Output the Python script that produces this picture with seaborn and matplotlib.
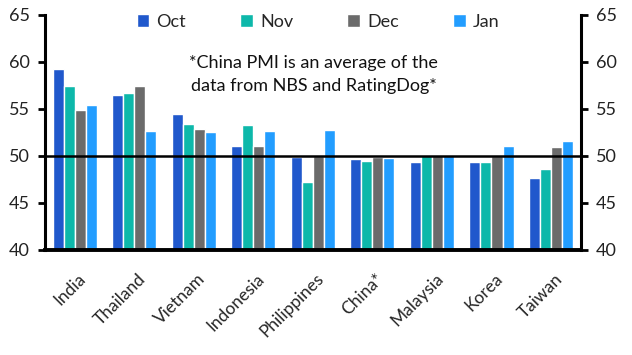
import pandas as pd
import numpy as np
import seaborn as sns
import matplotlib.pyplot as plt
import matplotlib.transforms as mtransforms

sns.set_theme(style="white")
plt.rcParams['font.family'] = ['Lato', 'DejaVu Sans']

countries = ['India', 'Thailand', 'Vietnam', 'Indonesia', 'Philippines',
             'China*', 'Malaysia', 'Korea', 'Taiwan']
months = ['Oct', 'Nov', 'Dec', 'Jan']
oct_vals = [59.2, 56.5, 54.5, 51.1, 49.9, 49.7, 49.4, 49.4, 47.7]
nov_vals = [57.4, 56.7, 53.4, 53.3, 47.2, 49.5, 50.1, 49.3, 48.6]
dec_vals = [54.9, 57.4, 52.9, 51.1, 50.0, 49.9, 50.1, 50.0, 50.9]
jan_vals = [55.4, 52.7, 52.5, 52.6, 52.8, 49.8, 50.1, 51.1, 51.6]
colors = ['#2058cc', '#0db8aa', '#6b6b6b', '#229dff']

df = pd.DataFrame({'Oct': oct_vals, 'Nov': nov_vals, 'Dec': dec_vals, 'Jan': jan_vals},
                  index=countries)
df = df.reset_index().melt(id_vars='index', var_name='month', value_name='pmi')
df = df.rename(columns={'index': 'country'})

fig = plt.figure(figsize=(6.32, 3.55), dpi=100)
ax = fig.add_axes([0.071, 0.296, 0.848, 0.662])
sns.barplot(data=df, x='country', y='pmi', hue='month', hue_order=months,
            palette=colors, saturation=1, width=0.74, ax=ax)

ax.set_ylim(40, 65)
ax.set_yticks([40, 45, 50, 55, 60, 65])
ax.set_xlim(-0.5, len(countries) - 0.5)
ax.axhline(50, color='black', lw=1.8, zorder=5)
ax.set_xlabel('')
ax.set_ylabel('')

for s in ['left', 'right', 'bottom']:
    ax.spines[s].set_visible(True)
    ax.spines[s].set_color('black')
    ax.spines[s].set_linewidth(2.2)
ax.spines['bottom'].set_linewidth(2.8)
ax.spines['top'].set_visible(False)

ax.tick_params(axis='y', which='both', left=True, right=True, labelleft=True,
               labelright=True, direction='out', length=5, width=2,
               labelsize=13, colors='black', pad=6)
ax.tick_params(axis='x', bottom=False, labelsize=12.5, pad=9)
for lab in ax.get_yticklabels():
    lab.set_color('#222222')
shift = mtransforms.ScaledTranslation(3 / 100, 0, fig.dpi_scale_trans)
for lab in ax.get_xticklabels():
    lab.set_rotation(45)
    lab.set_ha('right')
    lab.set_rotation_mode('anchor')
    lab.set_transform(lab.get_transform() + shift)

ax.text(0.502, 0.748, '*China PMI is an average of the\ndata from NBS and RatingDog*',
        transform=ax.transAxes, ha='center', va='center', fontsize=13,
        linespacing=1.55, color='#111111')

ax.legend(loc='upper center', bbox_to_anchor=(0.51, 1.075), ncol=4, frameon=False,
          fontsize=13, handlelength=0.7, handleheight=0.7, columnspacing=3.0,
          handletextpad=0.4)

fig.savefig('out.png', dpi=100)
